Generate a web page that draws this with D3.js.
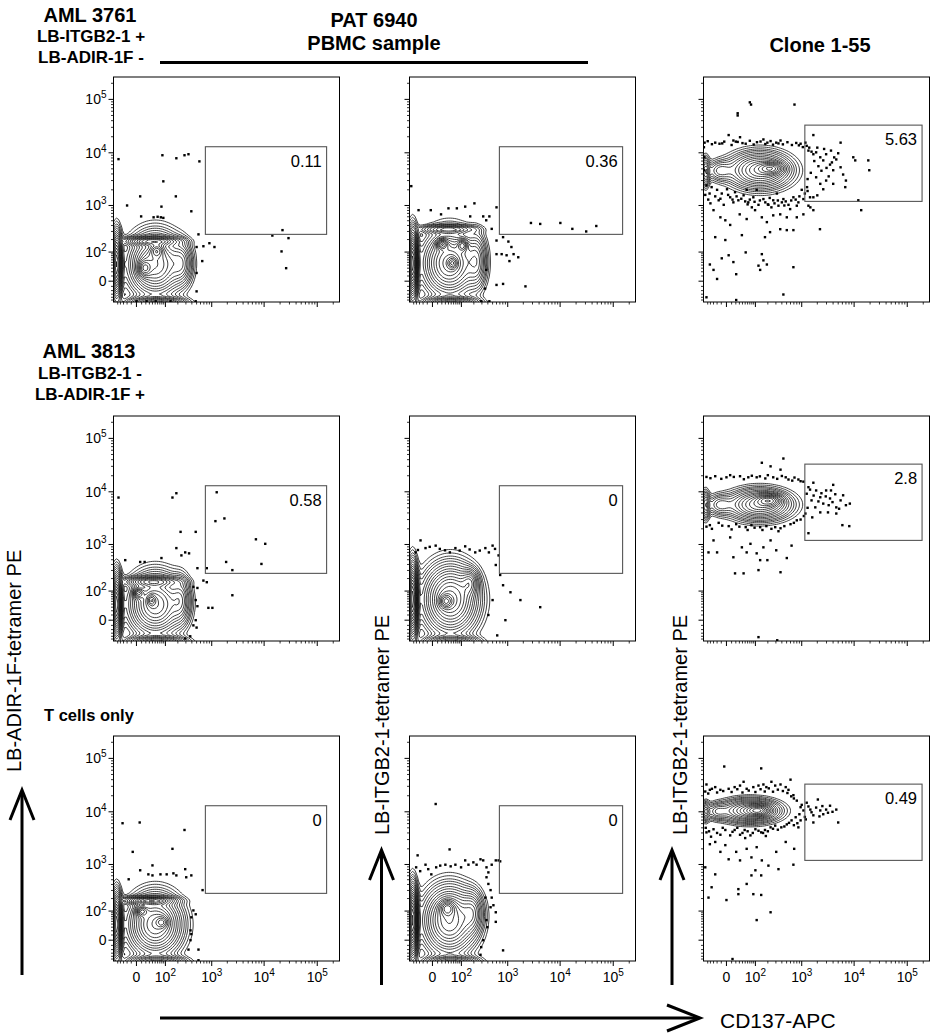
<!DOCTYPE html>
<html>
<head>
<meta charset="utf-8">
<script src="https://cdn.jsdelivr.net/npm/d3@7"></script>
<style>
  body { margin: 0; background: #fff; }
  text { font-family: Arial, 'Liberation Sans', sans-serif; fill: #000; }
</style>
</head>
<body>
<svg id="fig" width="930" height="1035"></svg>
<script>
// ---- data (fluorescence values) ----
const majorTicks = [0, 1e2, 1e3, 1e4, 1e5]
const minorTicks = [-50, -40, -30, -20, -10, 10, 20, 30, 40, 50, 60, 70, 80, 90,
  200, 300, 400, 500, 600, 700, 800, 900, 2000, 3000, 4000, 5000, 6000, 7000, 8000, 9000,
  20000, 30000, 40000, 50000, 60000, 70000, 80000, 90000, 200000]

const gateValues = [['0.11', '0.36', '5.63'], ['0.58', '0', '2.8'], ['0', '0', '0.49']]
// gates: [xlo, xhi, ylo, yhi]
const gatePBMC1 = [750, 150000, 260, 13000]
const gatePBMC2 = [685, 150000, 260, 13000]
const gateClone = [1150, 190000, 1200, 33000]

// contour populations: [xlo, xhi, ylo, yhi, weight]
const pops11 = [[-30, 290, -48, 370, 0.8], [-88, -36, -48, 370, 1], [-47, 263, 150, 250, 0.45],
  [-30, 340, -93, -33, 0.6], [-1, 35, 7.5, 72, 0.5], [27, 88, 72, 174, 0.45], [120, 430, -12, 226, 0.3]]
const pops12 = [[-36, 263, -48, 410, 0.75], [-88, -36, -48, 410, 1.2], [3.6, 38, 118, 226, 0.55],
  [30, 78, 27, 82, 0.5], [68, 145, 104, 226, 0.45], [-30, 290, -93, -33, 0.6], [120, 390, -25, 370, 0.3],
  [-47, 263, 280, 440, 0.3]]
const pops13 = [[-9, 760, 1900, 12500, 0.6], [100, 480, 3900, 7200, 0.45], [-88, -43, 2050, 10200, 0.3],
  [-68, 14, 2800, 8240, 0.2]]
const pops21 = [[-30, 290, -48, 335, 0.8], [-88, -36, -48, 335, 1.1], [-47, 263, 134, 240, 0.4],
  [-30, 340, -93, -33, 0.6], [-10, 14, 62, 134, 0.5], [19, 52, 33, 93, 0.45], [120, 390, -12, 290, 0.3]]
const pops22 = [[-36, 290, -48, 540, 0.85], [-88, -36, -48, 540, 1.2], [9, 56, 27, 93, 0.6],
  [-30, 290, -93, -33, 0.5], [88, 263, 72, 370, 0.3]]
const pops23 = [[-9, 760, 2700, 13200, 0.6], [88, 430, 5340, 9800, 0.45], [-88, -43, 2700, 12700, 0.3],
  [-68, 14, 3460, 10200, 0.2]]
const pops31 = [[-30, 290, -48, 335, 0.8], [-88, -36, -48, 335, 1.1], [-47, 206, 150, 240, 0.5],
  [-30, 340, -93, -33, 0.5], [-5, 25, 72, 150, 0.45], [44, 120, 27, 82, 0.4]]
const pops32 = [[-36, 263, -48, 490, 0.8], [-88, -36, -48, 490, 1.3], [9, 68, 72, 205, 0.5],
  [-30, 290, -93, -33, 0.5], [88, 340, 7.5, 370, 0.3]]
const pops33 = [[-28, 440, 6000, 19800, 0.6], [44, 240, 8240, 14800, 0.45], [-88, -43, 6300, 17800, 0.3],
  [-68, 3.6, 6900, 16200, 0.2]]

// single events drawn outside the contours: [x, y]
const dots11 = [[-47, 7600], [83, 9000], [185, 7900], [280, 9000], [340, 9400], [570, 6900], [88, 2900],
  [-20, 1000], [7, 1500], [180, 1500], [78, 950], [390, 770], [9, 610], [44, 585], [60, 600], [75, 585],
  [88, 570], [546, 260], [500, 134], [685, 140], [900, 165], [1130, 134], [650, 55], [500, 17], [500, -22],
  [480, -55], [14300, 245], [22200, 320], [28800, 215], [21300, 104], [26000, 30], [0, -55], [22, -55],
  [52, -55], [135, -55]]
const dots12 = [[-60, 2350], [-33, 810], [-3, 810], [18, 670], [40, 880], [75, 880], [125, 950], [206, 1100],
  [165, 610], [320, 610], [430, 610], [370, 510], [480, 340], [600, 920], [600, 190], [810, 226], [1030, 180],
  [1180, 134], [1300, 88], [1600, 72], [600, 88], [760, 88], [950, 82], [1080, 55], [370, 25], [600, -7],
  [810, -5], [350, -15], [2200, -10], [290, -55], [430, -55], [2800, 450], [4200, 430], [10100, 450],
  [17000, 340], [31000, 300], [48000, 390]]
const dots13 = [[70, 88000], [76, 80000], [25, 55000], [25, 50000], [720, 80000],
  [-63, 15500], [-25, 15500], [-14, 14800], [-4, 16200], [4, 21500], [14, 17000], [20, 16200], [32, 19600],
  [52, 14800], [158, 17800], [195, 15500], [305, 15500], [375, 17000], [950, 14800], [1180, 15500],
  [1680, 21500], [1250, 13500],
  [-50, 16500], [-35, 14500], [-8, 15000], [10, 14000], [25, 16000], [40, 15200], [70, 16800], [90, 14300],
  [110, 15800], [135, 16300], [175, 14600], [230, 16600], [260, 14200], [340, 15000], [420, 14400],
  [520, 15800], [640, 14000], [780, 15300], [880, 13800], [1050, 12800],
  [1350, 11000], [1680, 9400], [1900, 10200], [2280, 8240], [2600, 7200], [2950, 9400], [3500, 6000],
  [3650, 11000], [4020, 4700], [4600, 7500], [5550, 5340], [6200, 3900], [7000, 3000], [9640, 8240],
  [10500, 7200], [6800, 2250], [1900, 3460], [2280, 2600], [2600, 2050], [1680, 1440], [2000, 1570],
  [2950, 3000], [4020, 2600], [5550, 15500], [13600, 810], [12000, 1260], [18500, 7200], [19300, 4700],
  [1470, 920], [1680, 810], [1400, 12500], [1550, 10500], [1750, 7000], [2100, 5600], [2400, 4600],
  [3000, 5200], [3300, 3600], [4200, 8200], [5000, 9800], [1500, 4200], [1300, 3200], [2000, 12500],
  [2700, 11800], [3800, 6600],
  [-55, 2430], [-36, 2250], [-20, 2000], [-9, 1700], [1, 2050], [7, 1440], [18, 1800], [27, 1260], [44, 1570],
  [63, 1150], [88, 1440], [120, 1030], [158, 1330], [206, 1030], [263, 1260], [340, 990], [430, 1330],
  [546, 1030], [685, 1440], [860, 1150], [1077, 1330], [1350, 990], [-30, 810], [-12, 585], [-2, 510],
  [7, 410], [31, 670], [56, 540], [98, 810], [145, 585], [190, 468], [263, 640], [370, 670], [505, 585],
  [800, 585], [1077, 670], [-25, 226], [-2, 195], [38, 250], [172, 226], [224, 290], [370, 335], [505, 320],
  [685, 320], [2250, 335], [-9, 67], [4, 82], [14, 51], [52, 98], [145, 88], [158, 58], [190, 42], [132, 25],
  [120, 38], [21, 14], [-42, 42], [-30, 25], [-20, 4], [685, 33], [430, -31], [21, -50], [-55, -40],
  [-43, 1700], [-16, 1260], [-5, 1030], [14, 1150], [56, 2000], [80, 920], [108, 2000], [240, 920],
  [315, 1700], [590, 850], [800, 990], [1000, 2000], [1270, 2250], [1450, 1440],
  [-60, 1600], [-48, 1300], [-25, 1500], [-12, 1350], [3, 1600], [12, 1300], [22, 1500], [36, 1350],
  [50, 1200], [70, 1300], [95, 1180], [130, 1250], [175, 1150], [220, 1400], [280, 1100], [330, 1250],
  [400, 1150], [480, 1200], [620, 1250], [760, 1300], [900, 1500], [1150, 1700], [1300, 1900], [-40, 1100],
  [60, 1050], [200, 1050], [450, 1000],
  [-66, 12700], [-65, 4700], [-64, 8240]]
const dots21 = [[-47, 7800], [150, 7800], [185, 9400], [230, 1750], [480, 1750], [185, 850], [240, 610],
  [290, 700], [350, 670], [78, 540], [7, 450], [17, 450], [-25, 490], [520, 335], [800, 335], [685, 180],
  [800, 165], [430, 128], [520, 120], [2500, 77], [480, 55], [520, 33], [860, 28], [1030, 28], [480, 0],
  [430, -10], [500, -15], [370, -40], [290, -48], [1250, 9800], [1180, 2800], [1760, 3150], [7000, 1260],
  [10500, 1030], [1900, 450], [2500, 305], [8900, 410]]
const dots22 = [[-43, 700], [-14, 850], [6, 950], [29, 770], [68, 850], [125, 920], [215, 700], [355, 850],
  [500, 950], [660, 610], [-27, 1200], [580, 390], [710, 240], [810, 140], [1130, 93], [1760, 55], [4200, 30],
  [900, 0], [620, -37], [500, 55], [410, 10], [-35, 780], [-5, 900], [15, 820], [45, 700], [90, 760],
  [160, 800], [270, 760], [420, 700], [560, 820]]
const dots23 = [[145, 35000], [230, 30000], [430, 42000], [375, 26000],
  [-25, 19600], [0, 18700], [7, 20500], [32, 19600], [63, 18700], [108, 18700], [175, 17800], [263, 18700],
  [480, 18700], [546, 17000], [860, 17000], [1077, 15500],
  [-55, 19000], [-40, 18000], [-10, 17500], [15, 19000], [45, 17200], [80, 20000], [130, 19500],
  [200, 20500], [320, 17500], [400, 19800], [650, 16200], [720, 18500], [950, 15800],
  [1350, 12200], [1680, 14800], [1900, 10600], [2280, 7900], [2600, 6000], [2950, 10600], [3500, 7500],
  [4020, 13500], [4600, 5100], [5550, 6900], [6200, 8600], [7000, 5600], [8300, 6000], [1550, 6900],
  [1830, 5100], [1180, 3900], [1350, 1650], [6000, 2350], [8100, 2250], [4600, 3900], [3200, 4100],
  [2280, 4100], [3650, 10600], [1250, 9200], [1450, 11000], [1700, 8500], [2100, 6600], [2400, 9400],
  [2900, 8200], [3300, 5600], [3900, 6400], [4400, 9000], [5200, 4800], [1600, 3300], [1300, 5000],
  [-42, 2350], [-16, 2600], [4, 2250], [21, 2450], [52, 2150], [78, 2350], [132, 2150], [185, 2250],
  [290, 2150], [375, 2050], [600, 2450], [800, 2900],
  [-55, 2200], [-35, 2000], [-8, 2300], [10, 1950], [30, 2200], [60, 1900], [95, 2100], [150, 1900],
  [240, 2000], [340, 1800], [450, 2250], [700, 2600], [950, 3000], [1100, 3500],
  [-30, 1200], [7, 1370], [38, 880], [73, 1030], [108, 670], [158, 880], [230, 1200], [305, 770], [14, 560],
  [56, 700], [132, 490], [195, 490], [375, 275], [18, 260], [44, 260], [120, 305], [505, 540], [630, 950],
  [-47, 700], [-20, 700], [120, -43], [320, -55]]
const dots31 = [[-33, 6100], [6, 6300], [-7, 1750], [280, 4550], [150, 2000], [40, 960], [7, 770], [27, 640],
  [40, 610], [73, 640], [108, 640], [158, 670], [185, 610], [290, 810], [305, 560], [390, 610], [660, 305],
  [430, 104], [480, 82], [390, 67], [375, 21], [390, 12], [375, 0], [340, -20], [546, -20], [546, -55],
  [-16, 510]]
const dots32 = [[-41, 880], [-28, 740], [-14, 990], [-8, 810], [-2, 640], [7, 880], [16, 950], [30, 990],
  [48, 920], [68, 990], [98, 880], [125, 1200], [150, 990], [195, 1100], [230, 990], [280, 1260], [320, 1200],
  [375, 880], [410, 700], [480, 990], [580, 1200], [660, 1200], [710, 1150],
  [375, 560], [410, 410], [455, 305], [480, 210], [520, 140], [580, 93], [455, 125], [375, 55], [390, 30],
  [320, 0], [290, -14], [280, -35], [810, -22], [580, 48], [355, 210], [6, 14000], [44, 1950], [-36, 1500]]
const dots33 = [[-4, 70500], [140, 65000], [44, 36500], [-25, 29000], [-12, 25800], [4, 27000], [17, 29000],
  [32, 31000], [56, 27000], [88, 29000], [120, 31000], [158, 32500], [185, 29000], [240, 36500], [290, 31000],
  [375, 32500], [480, 29000], [600, 40000], [546, 25800], [685, 20500], [800, 16200], [-55, 32500], [-42, 25800],
  [-60, 24000], [-48, 22000], [-35, 27000], [-20, 23000], [-6, 24500], [10, 23500], [24, 26500], [40, 23000],
  [65, 25000], [100, 23500], [135, 26500], [170, 24000], [210, 27500], [260, 23800], [330, 26000],
  [420, 24500], [520, 22500], [620, 19500], [700, 17800],
  [950, 12200], [1080, 10600], [1250, 14800], [1470, 11000], [1680, 8600], [2050, 17000], [2280, 10600],
  [2600, 9000], [3500, 13000], [2950, 11000], [4600, 11000], [5000, 6300], [1680, 6300], [950, 6900],
  [860, 5100], [760, 7900], [900, 9000], [1000, 13500], [1150, 8000], [1350, 12600], [1550, 9800],
  [1900, 12000], [2200, 8200], [2500, 12800], [3200, 9600], [3900, 10000], [1200, 7200],
  [-55, 4100], [-30, 4700], [-12, 3700], [-2, 4550], [7, 3600], [17, 4550], [32, 3700], [48, 4550], [73, 3600],
  [100, 4700], [140, 4100], [172, 4550], [230, 5100], [290, 5500], [390, 5100], [505, 5800], [630, 6900],
  [-58, 5000], [-45, 4300], [-20, 4000], [-7, 5000], [12, 4200], [24, 5000], [40, 4000], [60, 4300],
  [85, 4000], [120, 4400], [155, 4000], [200, 4300], [260, 4800], [330, 4600], [450, 5300], [560, 6200],
  [700, 5600], [820, 6100], [-38, 3400], [50, 3200], [180, 3500],
  [-42, 2450], [-25, 2700], [-2, 2350], [4, 1260], [21, 1750], [32, 1200], [56, 2000], [78, 1370], [108, 2150],
  [145, 1200], [206, 950], [305, 1750], [480, 2700], [710, 2000], [685, 990], [340, 810], [100, 770],
  [78, 610], [140, 610], [56, 410], [27, 320], [27, 250], [88, 250], [140, 240], [-25, 640], [-36, 350],
  [-47, 210], [0, 185], [108, 55], [230, 93], [12, -50], [-60, 880], [-12, 1750]]

const contourLevels = [0.04, 0.06, 0.085, 0.11, 0.14, 0.18, 0.22, 0.27, 0.32, 0.38, 0.45, 0.52, 0.6,
  0.69, 0.79, 0.9, 1.02, 1.15, 1.3, 1.5, 1.75, 2.0]

// ---- layout ----
const W = 226
const H = 225
const colX = [113.5, 409.5, 703.5]
const rowY = [77, 416, 736]

const x = d3.scaleSymlog().constant(40).domain([-68, 262144]).range([0, W])
const y = d3.scaleSymlog().constant(40).domain([-58, 262144]).range([H, 0])

const svg = d3.select('#fig')

const panels = [
  { r: 0, c: 0, pops: pops11, dots: dots11, gate: gatePBMC1 },
  { r: 0, c: 1, pops: pops12, dots: dots12, gate: gatePBMC2 },
  { r: 0, c: 2, pops: pops13, dots: dots13, gate: gateClone },
  { r: 1, c: 0, pops: pops21, dots: dots21, gate: gatePBMC1 },
  { r: 1, c: 1, pops: pops22, dots: dots22, gate: gatePBMC2 },
  { r: 1, c: 2, pops: pops23, dots: dots23, gate: gateClone },
  { r: 2, c: 0, pops: pops31, dots: dots31, gate: gatePBMC1 },
  { r: 2, c: 1, pops: pops32, dots: dots32, gate: gatePBMC2 },
  { r: 2, c: 2, pops: pops33, dots: dots33, gate: gateClone }
]

// density grid in pixel space, built from the population list
const step = 2
const off = -10
const n = 124
function contoursFor(pops) {
  const comps = pops.map(p => {
    const x0 = x(p[0]), x1 = x(p[1]), y0 = y(p[2]), y1 = y(p[3])
    return { cx: (x0 + x1) / 2, sx: Math.abs(x1 - x0) / 4, cy: (y0 + y1) / 2, sy: Math.abs(y1 - y0) / 4, w: p[4] }
  })
  const values = new Float64Array(n * n)
  for (let j = 0; j < n; j++) {
    for (let i = 0; i < n; i++) {
      const px = off + i * step
      const py = off + j * step
      let s = 0
      comps.forEach(c => {
        const dx = (px - c.cx) / c.sx
        const dy = (py - c.cy) / c.sy
        s += c.w * Math.exp(-0.5 * (dx * dx + dy * dy))
      })
      values[j * n + i] = s
    }
  }
  return d3.contours().size([n, n]).thresholds(contourLevels)(values)
}
const contourPath = d3.geoPath(d3.geoIdentity().scale(step).translate([off, off]))

function tickLabel(sel, v) {
  if (v === 0) {
    sel.text('0')
  } else {
    sel.append('tspan').text('10')
    sel.append('tspan').attr('dy', -6).attr('font-size', 10).text(Math.round(Math.log10(v)))
  }
}

panels.forEach((p, k) => {
  const g = svg.append('g').attr('transform', `translate(${colX[p.c]},${rowY[p.r]})`)

  g.append('clipPath').attr('id', 'clip' + k)
    .append('rect').attr('width', W).attr('height', H)

  const inner = g.append('g').attr('clip-path', `url(#clip${k})`)

  inner.selectAll('path.contour')
    .data(contoursFor(p.pops))
    .enter()
    .append('path')
    .attr('class', 'contour')
    .attr('d', contourPath)
    .attr('fill', 'none')
    .attr('stroke', '#000')
    .attr('stroke-width', 0.75)

  inner.selectAll('rect.dot')
    .data(p.dots)
    .enter()
    .append('rect')
    .attr('class', 'dot')
    .attr('x', d => x(d[0]) - 1.2)
    .attr('y', d => y(d[1]) - 1.2)
    .attr('width', 2.4)
    .attr('height', 2.4)
    .attr('fill', '#000')

  // gate
  const gt = p.gate
  g.append('rect')
    .attr('x', x(gt[0]))
    .attr('y', y(gt[3]))
    .attr('width', x(gt[1]) - x(gt[0]))
    .attr('height', y(gt[2]) - y(gt[3]))
    .attr('fill', 'none')
    .attr('stroke', '#555')
    .attr('stroke-width', 1.1)

  g.append('text')
    .attr('x', x(gt[1]) - 5)
    .attr('y', y(gt[3]) + 20)
    .attr('text-anchor', 'end')
    .attr('font-size', 16.5)
    .text(gateValues[p.r][p.c])

  // frame
  g.append('rect')
    .attr('width', W).attr('height', H)
    .attr('fill', 'none').attr('stroke', '#000').attr('stroke-width', 1)

  // ticks
  g.selectAll('.ymaj').data(majorTicks).enter().append('line')
    .attr('x1', 0).attr('x2', -5).attr('y1', d => y(d)).attr('y2', d => y(d))
    .attr('stroke', '#000')
  g.selectAll('.ymin').data(minorTicks).enter().append('line')
    .attr('x1', 0).attr('x2', -2.5).attr('y1', d => y(d)).attr('y2', d => y(d))
    .attr('stroke', '#000').attr('stroke-width', 0.8)
  g.selectAll('.xmaj').data(majorTicks).enter().append('line')
    .attr('y1', H).attr('y2', H + 5).attr('x1', d => x(d)).attr('x2', d => x(d))
    .attr('stroke', '#000')
  g.selectAll('.xmin').data(minorTicks).enter().append('line')
    .attr('y1', H).attr('y2', H + 2.5).attr('x1', d => x(d)).attr('x2', d => x(d))
    .attr('stroke', '#000').attr('stroke-width', 0.8)

  if (p.c === 0) {
    g.selectAll('.ylab').data(majorTicks).enter().append('text')
      .attr('x', -7)
      .attr('y', d => y(d) + 5)
      .attr('text-anchor', 'end')
      .attr('font-size', 14)
      .each(function(d) { tickLabel(d3.select(this), d) })
  }
  if (p.r === 2) {
    g.selectAll('.xlab').data(majorTicks).enter().append('text')
      .attr('x', d => x(d))
      .attr('y', H + 21)
      .attr('text-anchor', 'middle')
      .attr('font-size', 14)
      .each(function(d) { tickLabel(d3.select(this), d) })
  }
})

// ---- headings ----
function label(txt, px, py, size, weight, anchor) {
  svg.append('text')
    .attr('x', px).attr('y', py)
    .attr('font-size', size)
    .attr('font-weight', weight || 'bold')
    .attr('text-anchor', anchor || 'middle')
    .text(txt)
}
label('AML 3761', 90, 21.5, 20)
label('LB-ITGB2-1 +', 91, 41.5, 17)
label('LB-ADIR-1F -', 91, 63, 17)
label('PAT 6940', 374, 26.5, 20)
label('PBMC sample', 374, 49.5, 20)
label('Clone 1-55', 820, 51.5, 20)
label('AML 3813', 89, 358, 20)
label('LB-ITGB2-1 -', 90, 378.5, 17)
label('LB-ADIR-1F +', 90, 400, 17)
label('T cells only', 44, 721, 16.5, 'bold', 'start')

svg.append('line')
  .attr('x1', 160).attr('x2', 588).attr('y1', 62.5).attr('y2', 62.5)
  .attr('stroke', '#000').attr('stroke-width', 3)

// ---- axis titles and arrows ----
const yTitles = [
  { t: 'LB-ADIR-1F-tetramer PE', bx: 21, by: 772, ax: 22, tip: 790, end: 975 },
  { t: 'LB-ITGB2-1-tetramer PE', bx: 389, by: 835, ax: 381.5, tip: 850, end: 985 },
  { t: 'LB-ITGB2-1-tetramer PE', bx: 687, by: 835, ax: 672, tip: 850, end: 985 }
]
yTitles.forEach(d => {
  svg.append('text')
    .attr('transform', `translate(${d.bx},${d.by}) rotate(-90)`)
    .attr('font-size', 20)
    .text(d.t)
  svg.append('line')
    .attr('x1', d.ax).attr('x2', d.ax).attr('y1', d.tip + 1).attr('y2', d.end)
    .attr('stroke', '#000').attr('stroke-width', 3)
  svg.append('path')
    .attr('d', `M${d.ax - 12},${d.tip + 30}L${d.ax},${d.tip}L${d.ax + 12},${d.tip + 30}`)
    .attr('fill', 'none').attr('stroke', '#000').attr('stroke-width', 3)
})

svg.append('line')
  .attr('x1', 160).attr('x2', 699).attr('y1', 1018).attr('y2', 1018)
  .attr('stroke', '#000').attr('stroke-width', 3)
svg.append('path')
  .attr('d', 'M667,1005L700,1018L667,1031')
  .attr('fill', 'none').attr('stroke', '#000').attr('stroke-width', 3)
label('CD137-APC', 720, 1028, 21, 'normal', 'start')
</script>
</body>
</html>
